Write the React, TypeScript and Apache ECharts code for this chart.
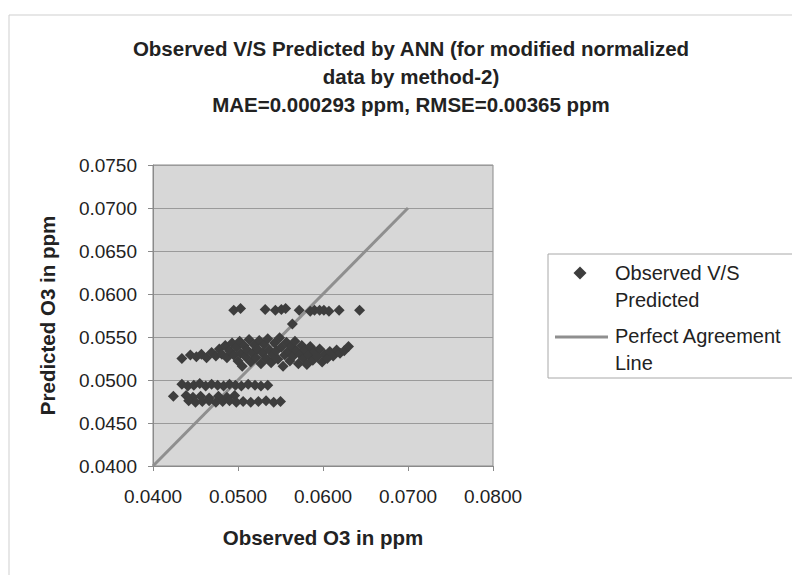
import React, { useEffect, useRef } from "react";
import * as echarts from "echarts";

// ---- Data ----
const titleLines = [
  "Observed V/S Predicted by ANN (for modified normalized",
  "data by method-2)",
  "MAE=0.000293 ppm, RMSE=0.00365 ppm",
];
const xTicks = [0.04, 0.05, 0.06, 0.07, 0.08];
const yTicks = [0.04, 0.045, 0.05, 0.055, 0.06, 0.065, 0.07, 0.075];
const xAxisTitle = "Observed O3 in ppm";
const yAxisTitle = "Predicted O3 in ppm";
const seriesNames = ["Observed V/S\nPredicted", "Perfect Agreement\nLine"];

// upper sparse row (~0.0581)
const obsUpper = [0.0495, 0.0503, 0.0532, 0.0544, 0.0551, 0.0556, 0.0572, 0.0585, 0.059, 0.0596, 0.0601, 0.0607, 0.0619, 0.0643];
const predUpper = [0.0581, 0.0583, 0.0582, 0.0581, 0.0582, 0.0583, 0.0581, 0.058, 0.0581, 0.0581, 0.0581, 0.058, 0.0581, 0.0581];

// isolated point
const obsSingle = [0.0564];
const predSingle = [0.0565];

// dense middle band
const obsMid = [
  0.0434, 0.0444, 0.0451, 0.0457, 0.0463, 0.0469, 0.0474, 0.0478, 0.0481, 0.0485, 0.0487, 0.049, 0.0493, 0.0495,
  0.0498, 0.05, 0.0502, 0.0503, 0.0505, 0.0507, 0.0509, 0.0511, 0.0513, 0.0515, 0.0517, 0.0519, 0.0521, 0.0523,
  0.0525, 0.0527, 0.0529, 0.0531, 0.0533, 0.0535, 0.0537, 0.0539, 0.0541, 0.0543, 0.0545, 0.0547, 0.0549, 0.0551,
  0.0553, 0.0555, 0.0557, 0.0559, 0.0561, 0.0563, 0.0565, 0.0567, 0.0569, 0.0571, 0.0573, 0.0575, 0.0577, 0.0579,
  0.0581, 0.0583, 0.0585, 0.0588, 0.059, 0.0593, 0.0596, 0.0599, 0.0602, 0.0605, 0.0608, 0.0612, 0.0616, 0.062,
  0.0625, 0.063,
];
const predMid = [
  0.0525, 0.0529, 0.0527, 0.053, 0.0526, 0.0532, 0.0528, 0.0536, 0.053, 0.054, 0.0526, 0.0534, 0.0543, 0.0529,
  0.0538, 0.0522, 0.0545, 0.0531, 0.0516, 0.054, 0.0527, 0.0535, 0.0547, 0.0521, 0.0531, 0.0541, 0.0526, 0.0536,
  0.0546, 0.0519, 0.0531, 0.0541, 0.0525, 0.0548, 0.0535, 0.052, 0.0529, 0.0543, 0.0534, 0.0524, 0.0549, 0.0538,
  0.0516, 0.0529, 0.0544, 0.0533, 0.0522, 0.0539, 0.0528, 0.0545, 0.0534, 0.0519, 0.053, 0.054, 0.0525, 0.0535,
  0.0518, 0.0529, 0.0539, 0.0523, 0.0533, 0.0527, 0.0536, 0.0521, 0.053, 0.0525, 0.0533, 0.0528, 0.0535, 0.0531,
  0.0534, 0.0539,
];

// lower rows
const obsRowA = [0.0434, 0.0441, 0.0448, 0.0455, 0.0462, 0.0469, 0.0476, 0.0483, 0.049, 0.0497, 0.0504, 0.0512, 0.052, 0.0527, 0.0535];
const predRowA = [0.0495, 0.0493, 0.0494, 0.0496, 0.0493, 0.0495, 0.0494, 0.0493, 0.0495, 0.0494, 0.0493, 0.0495, 0.0494, 0.0493, 0.0494];
const obsRowB = [0.0424, 0.0439, 0.0447, 0.0456, 0.0466, 0.0477, 0.0487, 0.0496];
const predRowB = [0.0481, 0.0482, 0.048, 0.0481, 0.0479, 0.0481, 0.048, 0.0482];
const obsRowC = [0.0442, 0.045, 0.0458, 0.0466, 0.0474, 0.0482, 0.049, 0.0498, 0.0506, 0.0515, 0.0524, 0.0533, 0.0542, 0.055];
const predRowC = [0.0476, 0.0474, 0.0475, 0.0476, 0.0474, 0.0475, 0.0476, 0.0474, 0.0475, 0.0474, 0.0475, 0.0476, 0.0474, 0.0475];

// perfect agreement line endpoints
const lineX = [0.04, 0.07];
const lineY = [0.04, 0.07];

const pair = (xs: number[], ys: number[]) => xs.map((x, i) => [x, ys[i]]);

const FONT = "'Liberation Sans', Arial, sans-serif";

export default function App() {
  const ref = useRef<HTMLDivElement>(null);
  useEffect(() => {
    if (!ref.current) return;
    const chart = echarts.init(ref.current, undefined, { renderer: "svg" });
    const scatterData = [
      ...pair(obsUpper, predUpper),
      ...pair(obsSingle, predSingle),
      ...pair(obsMid, predMid),
      ...pair(obsRowA, predRowA),
      ...pair(obsRowB, predRowB),
      ...pair(obsRowC, predRowC),
    ];
    const titleY = [48, 76, 104];
    chart.setOption({
      animation: false,
      backgroundColor: "#ffffff",
      textStyle: { fontFamily: FONT },
      grid: {
        left: 153,
        top: 165,
        width: 340,
        height: 301,
        show: true,
        backgroundColor: "#d7d7d7",
        borderColor: "#8a8a8a",
        borderWidth: 1,
      },
      xAxis: {
        type: "value",
        min: xTicks[0],
        max: xTicks[xTicks.length - 1],
        interval: 0.01,
        name: xAxisTitle,
        nameLocation: "middle",
        nameGap: 61,
        nameTextStyle: { fontFamily: FONT, fontSize: 20.5, fontWeight: "bold", color: "#222" },
        axisLine: { show: true, onZero: false, lineStyle: { color: "#8a8a8a" } },
        axisTick: { show: true, length: 5, lineStyle: { color: "#8a8a8a" } },
        axisLabel: {
          margin: 21,
          fontFamily: FONT,
          fontSize: 19,
          color: "#222",
          formatter: (v: number) => v.toFixed(4),
        },
        splitLine: { show: false },
      },
      yAxis: {
        type: "value",
        min: yTicks[0],
        max: yTicks[yTicks.length - 1],
        interval: 0.005,
        name: yAxisTitle,
        nameLocation: "middle",
        nameRotate: 90,
        nameGap: 95,
        nameTextStyle: { fontFamily: FONT, fontSize: 20.5, fontWeight: "bold", color: "#222" },
        axisLine: { show: true, onZero: false, lineStyle: { color: "#8a8a8a" } },
        axisTick: { show: true, length: 5, lineStyle: { color: "#8a8a8a" } },
        axisLabel: {
          margin: 16,
          fontFamily: FONT,
          fontSize: 19,
          color: "#222",
          formatter: (v: number) => v.toFixed(4),
        },
        splitLine: { show: true, lineStyle: { color: "#9a9a9a", width: 1 } },
      },
      series: [
        {
          name: seriesNames[0],
          type: "scatter",
          symbol: "diamond",
          symbolSize: 11,
          itemStyle: { color: "#3d3d3d", opacity: 1 },
          data: scatterData,
          z: 3,
        },
        {
          name: seriesNames[1],
          type: "line",
          showSymbol: false,
          symbol: "none",
          lineStyle: { color: "#8f8f8f", width: 3 },
          data: pair(lineX, lineY),
          z: 2,
        },
      ],
      graphic: [
        {
          type: "rect",
          shape: { x: 9, y: 15, width: 800, height: 600 },
          style: { fill: "none", stroke: "#cfcfcf", lineWidth: 1 },
          silent: true,
          z: -10,
        },
        ...titleLines.map((t, i) => ({
          type: "text",
          x: 411,
          y: titleY[i],
          style: {
            text: t,
            fontFamily: FONT,
            fontSize: 20.5,
            fontWeight: "bold",
            fill: "#222",
            align: "center",
            verticalAlign: "middle",
          },
        })),
        // legend box and keys
        {
          type: "rect",
          shape: { x: 548, y: 254, width: 260, height: 124 },
          style: { fill: "#ffffff", stroke: "#a8a8a8", lineWidth: 1 },
        },
        {
          type: "polygon",
          shape: { points: [[580, 266.5], [586.5, 273], [580, 279.5], [573.5, 273]] },
          style: { fill: "#3d3d3d" },
        },
        {
          type: "line",
          shape: { x1: 555, y1: 337, x2: 608, y2: 337 },
          style: { stroke: "#8f8f8f", lineWidth: 3 },
        },
        {
          type: "text",
          x: 615,
          y: 259,
          style: { text: seriesNames[0], fontFamily: FONT, fontSize: 20, lineHeight: 27, fill: "#222", verticalAlign: "top" },
        },
        {
          type: "text",
          x: 615,
          y: 322,
          style: { text: seriesNames[1], fontFamily: FONT, fontSize: 20, lineHeight: 27, fill: "#222", verticalAlign: "top" },
        },
      ],
    });
    return () => chart.dispose();
  }, []);
  return (
    <div
      ref={ref}
      style={{ position: "absolute", left: 0, top: 0, width: 792, height: 575 }}
    />
  );
}
